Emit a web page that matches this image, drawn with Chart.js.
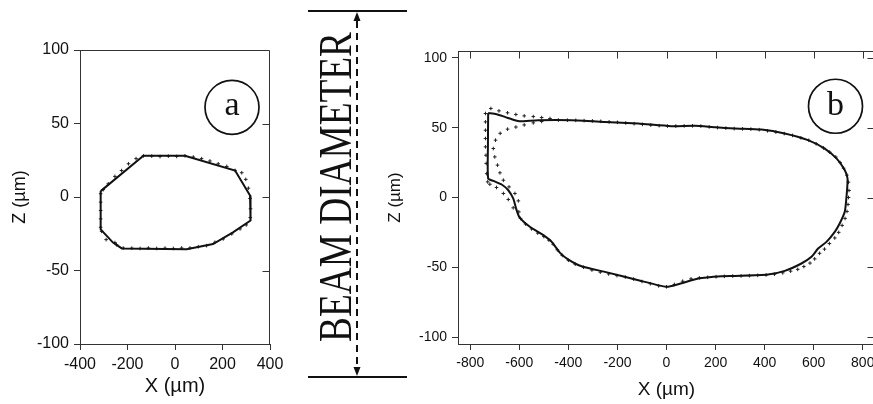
<!DOCTYPE html>
<html><head><meta charset="utf-8">
<script src="https://cdn.jsdelivr.net/npm/chart.js@4.4.0/dist/chart.umd.min.js"></script>
<style>
html,body{margin:0;padding:0;background:#fff;overflow:hidden;width:873px;height:404px;position:relative;}
#ca{position:absolute;left:0;top:0;}
#cb{position:absolute;left:380px;top:0;}
</style></head><body>
<canvas id="ca" width="420" height="404"></canvas>
<canvas id="cb" width="500" height="404"></canvas>
<script>
// ---------- Panel (a) ----------
const aTickX = [-400, -200, 0, 200, 400];
const aTickZ = [-100, -50, 0, 50, 100];
const aFitX = [-313, -133, 42, 253, 316, 318, 244, 160, 49, -224, -261, -313, -313];
const aFitZ = [4, 28, 28, 18, 1, -16, -24, -32, -35.5, -35, -31, -22, 4];
const aDotX = [-313, -313, -302, -281, -253, -225, -196, -164, -133, -98, -63, -28, 7, 42, 77, 112, 147, 182, 218, 253, 281, 298, 309, 316, 318, 317, 300, 274, 239, 203, 168, 133, 98, 63, 28, -7, -42, -77, -112, -147, -182, -218, -246, -253, -290, -309, -313, -313, -313];
const aDotZ = [-3.5, 2.2, 5, 9, 14, 18, 22.6, 26.1, 28, 27.8, 27.5, 27.8, 27.6, 28, 27.2, 26.1, 24.5, 22.6, 20.8, 18.1, 16.5, 12, 6, -1, -8, -14, -19, -21.7, -25.1, -28.5, -30.8, -33.1, -33.8, -34.7, -34.7, -35, -34.8, -35, -34.7, -35, -34.8, -34.7, -32.5, -31, -29, -23.4, -20.6, -14.9, -9.2];

// ---------- Panel (b) ----------
const bTickX = [-800, -600, -400, -200, 0, 200, 400, 600, 800];
const bTickZ = [-100, -50, 0, 50, 100];
const bFitX = [-727, -693, -659, -618, -598, -523, -387, -251, -115, 20, 115, 200, 278, 387, 482, 577, 645, 693, 727, 738, 735, 727, 706, 686, 652, 618, 591, 550, 482, 414, 278, 224, 129, 47, 0, -115, -251, -346, -400, -434, -468, -502, -557, -600, -613, -625, -645, -672, -706, -727, -728, -727];
const bFitZ = [60.6, 59.7, 57.8, 55.4, 54.7, 55.4, 55.4, 54.2, 53, 51.1, 51.4, 50.3, 49.5, 48.7, 45.9, 41.1, 35, 28, 19.6, 13.6, 3, -10, -18.6, -24.6, -31.8, -36.6, -42.5, -47.3, -52.6, -55.2, -56.2, -56.4, -58.1, -62.2, -64, -59.3, -53.3, -49.3, -44.5, -39.7, -31.8, -27, -21, -14, -8, -0.7, 5.2, 9.3, 11.9, 13.6, 37, 60.6];
const bDotX = [-716, -683, -648, -614, -580, -543, -509, -475, -441, -404, -370, -336, -302, -268, -234, -200, -166, -132, -98, -64, -30, 4, 38, 72, 106, 140, 174, 208, 242, 276, 310, 344, 378, 412, 446, 480,
  514, 548, 580, 610, 640, 665, 690, 708, 722, 735, 742, 744, 742, 740, 736, 728, 716, 702, 686, 664, 644, 624, 604, 585, 560, 535,
  506, 474, 440, 406, 372, 338, 304, 270, 236, 202, 168, 134, 100, 66, 32, 0, -32, -66, -100, -134, -168, -202, -236, -270, -304, -338, -372, -400, -425, -445, -462, -480, -500, -525, -550, -575, -595,
  -602, -625, -645, -665, -693, -720, -729, -733, -735, -736, -738, -738, -738, -738, -738,
  -604, -618, -642, -665, -679, -689, -700, -706, -697, -678, -648, -614, -580, -543, -509];
const bDotZ = [63.8, 62.1, 60.7, 59.5, 58.5, 58, 57.3, 56.6, 55.5, 55.4, 55.3, 55.1, 54.9, 54.6, 54.2, 53.9, 53.4, 52.9, 52.4, 51.9, 51.5, 51.2, 51.2, 51.3, 51.4, 51.2, 50.6, 50.1, 49.7, 49.4, 49.2, 49, 48.6, 47.8, 46.9, 45.8,
  44.5, 42.8, 41, 38.5, 35.5, 32.5, 29, 25, 21, 16, 11, 5, 0, -5, -10, -15, -20, -25, -29, -33, -37, -40, -44, -47, -49.5, -51.5,
  -52.8, -54, -55, -55.5, -55.8, -56, -56.2, -56.3, -56.5, -56.8, -57.2, -57.6, -58.3, -60, -62.3, -64, -63.3, -61.8, -60.2, -58.5, -57, -56, -54.8, -53.5, -52, -50, -47.8, -45, -41.5, -37.5, -33.5, -30.5, -28, -25.5, -22.5, -19, -15,
  -10.3, -7.4, -1.4, 2.9, 7.2, 9.5, 11.2, 17.1, 24.4, 30.3, 36.3, 42.3, 48.2, 54.2, 60.2,
  -2.4, 2.9, 7.6, 12.4, 17.7, 23.2, 29.1, 35.1, 41.1, 46, 49, 50.5, 52, 53.5, 54.5];

const SANS = '"Liberation Sans", Arial, sans-serif';
const SERIF = '"Liberation Serif", "Times New Roman", serif';
const INK = '#111';

function pts(xs, zs) { return xs.map((x, i) => ({x: x, y: zs[i]})); }

const framePlugin = {
  id: 'frame',
  afterDraw(chart, args, o) {
    const {ctx, chartArea: ca, scales} = chart;
    ctx.save();
    ctx.strokeStyle = '#333';
    ctx.lineWidth = 1;
    const t = Math.round(ca.top) + 0.5, r = Math.round(ca.right) - 0.5;
    ctx.beginPath();
    ctx.moveTo(ca.left, t); ctx.lineTo(r, t); ctx.lineTo(r, ca.bottom);
    const L = 7;
    if (o.topTicks) {
      scales.x.ticks.forEach(tk => {
        const px = Math.round(scales.x.getPixelForValue(tk.value)) + 0.5;
        ctx.moveTo(px, t); ctx.lineTo(px, t + L);
      });
    }
    if (o.rightTicks) {
      scales.y.ticks.forEach(tk => {
        if (o.rightSkipEnds && Math.abs(tk.value) === 100) return;
        const py = Math.round(scales.y.getPixelForValue(tk.value)) + 0.5;
        ctx.moveTo(r, py); ctx.lineTo(r - L, py);
      });
    }
    ctx.stroke();
    // circled panel letter
    const cx = scales.x.getPixelForValue(o.labelX), cy = scales.y.getPixelForValue(o.labelZ);
    ctx.strokeStyle = INK; ctx.lineWidth = 1.7;
    ctx.beginPath(); ctx.arc(cx, cy, 27, 0, Math.PI * 2); ctx.stroke();
    ctx.fillStyle = INK;
    ctx.font = '34px ' + SERIF;
    ctx.textAlign = 'center'; ctx.textBaseline = 'alphabetic';
    ctx.fillText(o.letter, cx, cy + o.letterDy);
    if (o.beam) {
      ctx.strokeStyle = INK; ctx.fillStyle = INK; ctx.lineWidth = 2;
      ctx.beginPath();
      ctx.moveTo(308, 11); ctx.lineTo(407, 11);
      ctx.moveTo(308, 377); ctx.lineTo(407, 377);
      ctx.stroke();
      ctx.setLineDash([7, 5]);
      ctx.beginPath(); ctx.moveTo(357, 21); ctx.lineTo(357, 367); ctx.stroke();
      ctx.setLineDash([]);
      ctx.beginPath(); ctx.moveTo(357, 12); ctx.lineTo(353.5, 21); ctx.lineTo(360.5, 21); ctx.closePath(); ctx.fill();
      ctx.beginPath(); ctx.moveTo(357, 376); ctx.lineTo(353.5, 367); ctx.lineTo(360.5, 367); ctx.closePath(); ctx.fill();
      ctx.save();
      ctx.translate(351, 187); ctx.rotate(-Math.PI / 2);
      ctx.font = '47px ' + SERIF;
      const w = ctx.measureText('BEAM DIAMETER').width;
      ctx.scale(310 / w, 1);
      ctx.textAlign = 'center'; ctx.textBaseline = 'alphabetic';
      ctx.fillText('BEAM DIAMETER', 0, 0);
      ctx.restore();
    }
    ctx.restore();
  }
};

function makeChart(id, cfg) {
  const axis = (min, max, ticks, fit, title, tfont, tpad) => ({
    type: 'linear', min: min, max: max,
    afterBuildTicks: s => { s.ticks = ticks.map(v => ({value: v})); },
    afterFit: fit,
    grid: {drawOnChartArea: false, drawTicks: true, tickLength: 6, color: '#333', lineWidth: 1},
    border: {display: true, color: '#333', width: 1},
    ticks: {color: INK, font: {family: SANS, size: cfg.tickFont}, padding: 5, maxRotation: 0, autoSkip: false},
    title: {display: true, text: title, color: INK, font: {family: SANS, size: tfont}, padding: tpad}
  });
  return new Chart(document.getElementById(id), {
    type: 'scatter',
    data: {datasets: [
      {data: pts(cfg.fitX, cfg.fitZ), showLine: true, borderColor: INK, borderWidth: 2, pointRadius: 0, tension: cfg.tension, fill: false},
      {data: pts(cfg.dotX, cfg.dotZ), showLine: false, pointStyle: 'cross', pointRadius: 1.8, borderColor: '#222', borderWidth: 1, backgroundColor: '#222'}
    ]},
    options: {
      responsive: false, animation: false, devicePixelRatio: 1,
      layout: {padding: cfg.padding},
      plugins: {legend: {display: false}, tooltip: {enabled: false}, frame: cfg.frame},
      scales: {
        x: axis(cfg.xmin, cfg.xmax, cfg.tickX, s => { s.height = cfg.xh; }, 'X (µm)', cfg.xtfont, {top: 0, bottom: cfg.xtp}),
        y: axis(cfg.zmin, cfg.zmax, cfg.tickZ, s => { s.width = cfg.yw; }, 'Z (µm)', cfg.ytfont, {top: cfg.ytp, bottom: 0})
      }
    },
    plugins: [framePlugin]
  });
}

makeChart('ca', {
  fitX: aFitX, fitZ: aFitZ, dotX: aDotX, dotZ: aDotZ, tension: 0,
  xmin: -400, xmax: 400, zmin: -100, zmax: 100, tickX: aTickX, tickZ: aTickZ,
  padding: {left: 0, top: 50, right: 150, bottom: 0}, xh: 60, yw: 80, tickFont: 16, xtfont: 20, ytfont: 18, xtp: 6, ytp: 9,
  frame: {topTicks: false, rightTicks: true, rightSkipEnds: true, labelX: 240, labelZ: 61, letter: 'a', letterDy: 8, beam: true}
});
makeChart('cb', {
  fitX: bFitX, fitZ: bFitZ, dotX: bDotX, dotZ: bDotZ, tension: 0.2,
  xmin: -850, xmax: 850, zmin: -105, zmax: 105, tickX: bTickX, tickZ: bTickZ,
  padding: {left: 0, top: 51, right: 5, bottom: 0}, xh: 60, yw: 78, tickFont: 14, xtfont: 19, ytfont: 17, xtp: 3, ytp: 5,
  frame: {topTicks: true, rightTicks: true, rightSkipEnds: false, labelX: 689, labelZ: 65.4, letter: 'b', letterDy: 9, beam: false}
});
</script>
</body></html>
